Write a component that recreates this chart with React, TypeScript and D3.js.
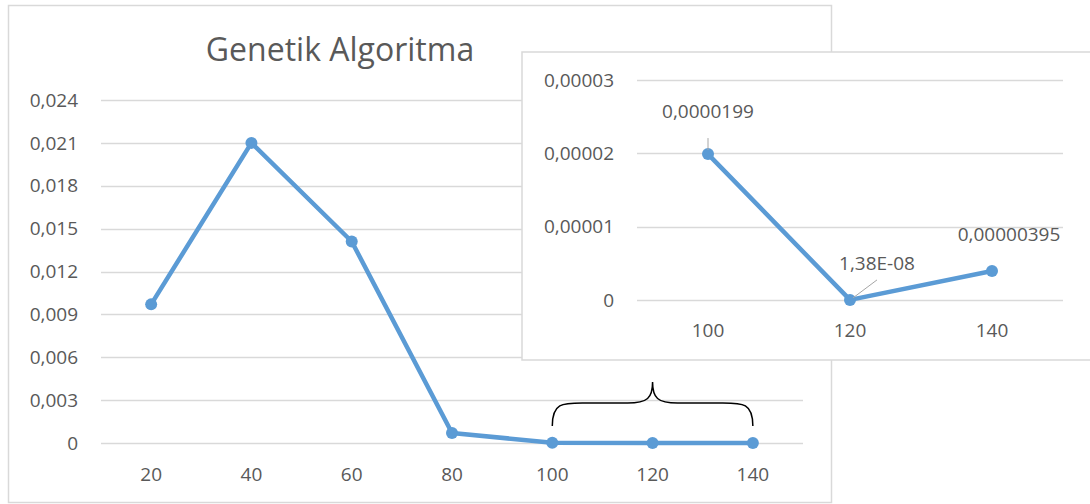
import React from 'react';
import * as d3 from 'd3';

// main chart
const categories = ['20', '40', '60', '80', '100', '120', '140'];
const values = [0.0097, 0.021, 0.0141, 0.0007, 0.0000199, 0.0000000138, 0.00000395];
const yTicks = [0, 0.003, 0.006, 0.009, 0.012, 0.015, 0.018, 0.021, 0.024];

// zoomed inset
const insetCategories = ['100', '120', '140'];
const insetValues = [0.0000199, 0.0000000138, 0.00000395];
const insetTicks = [0, 0.00001, 0.00002, 0.00003];
const insetTickLabels = ['0', '0,00001', '0,00002', '0,00003'];
const insetDataLabels = ['0,0000199', '1,38E-08', '0,00000395'];

const fmt = (v: number) => (v === 0 ? '0' : v.toFixed(3).replace('.', ','));

const BLUE = '#5b9bd5';
const GRID = '#d9d9d9';
const TEXT = '#595959';
const FONT = '"Open Sans", sans-serif';

export default function App() {
  const x = d3.scaleBand().domain(categories).range([101, 803]);
  const y = d3.scaleLinear().domain([0, 0.024]).range([443, 100]);
  const cx = (c: string) => (x(c) as number) + x.bandwidth() / 2;

  const line = d3.line<number>()
    .x((d, i) => cx(categories[i]))
    .y(d => y(d));

  const xi = d3.scaleBand().domain(insetCategories).range([637, 1063]);
  const yi = d3.scaleLinear().domain([0, 0.00003]).range([300, 80]);
  const cxi = (c: string) => (xi(c) as number) + xi.bandwidth() / 2;

  const insetLine = d3.line<number>()
    .x((d, i) => cxi(insetCategories[i]))
    .y(d => yi(d));

  // curly brace above the 100..140 points
  const bx0 = cx('100');
  const bx1 = cx('140');
  const bm = (bx0 + bx1) / 2;
  const yEnd = 426, yMid = 403, yPeak = 382;
  const brace = `M${bx0},${yEnd} C${bx0},${yMid} ${bx0 + 10},${yMid} ${bx0 + 30},${yMid}
    L${bm - 25},${yMid} C${bm - 5},${yMid} ${bm},${yMid - 5} ${bm},${yPeak}
    C${bm},${yMid - 5} ${bm + 5},${yMid} ${bm + 25},${yMid}
    L${bx1 - 30},${yMid} C${bx1 - 10},${yMid} ${bx1},${yMid} ${bx1},${yEnd}`;

  // data label positions relative to points
  const p0 = { x: cxi('100'), y: yi(insetValues[0]) };
  const p1 = { x: cxi('120'), y: yi(insetValues[1]) };
  const p2 = { x: cxi('140'), y: yi(insetValues[2]) };

  return (
    <svg width={1090} height={504} style={{ position: 'absolute', left: 0, top: 0, fontFamily: FONT }}>
      <rect x={0} y={0} width={1090} height={504} fill="#fff" />
      <rect x={8.5} y={5.5} width={823} height={497} fill="#fff" stroke={GRID} strokeWidth={1.5} />

      <text x={340} y={61} textAnchor="middle" fontSize={32} fill={TEXT}>Genetik Algoritma</text>

      {yTicks.map(t => (
        <g key={t}>
          <line x1={101} x2={803} y1={Math.round(y(t)) + 0.5} y2={Math.round(y(t)) + 0.5} stroke={GRID} strokeWidth={1.5} />
          <text x={78} y={y(t)} dy="0.35em" textAnchor="end" fontSize={19} fill={TEXT}>{fmt(t)}</text>
        </g>
      ))}
      {categories.map(c => (
        <text key={c} x={cx(c)} y={474} dy="0.35em" textAnchor="middle" fontSize={19} fill={TEXT}>{c}</text>
      ))}

      <path d={line(values) as string} fill="none" stroke={BLUE} strokeWidth={4.5} strokeLinejoin="round" />
      {values.map((v, i) => (
        <circle key={i} cx={cx(categories[i])} cy={y(v)} r={6} fill={BLUE} />
      ))}

      <path d={brace} fill="none" stroke="#000" strokeWidth={1.5} />

      {/* inset */}
      <rect x={522} y={52} width={580} height={308} fill="#fff" stroke={GRID} strokeWidth={1.5} />
      {insetTicks.map((t, i) => (
        <g key={t}>
          <line x1={637} x2={1063} y1={Math.round(yi(t)) + 0.5} y2={Math.round(yi(t)) + 0.5} stroke={GRID} strokeWidth={1.5} />
          <text x={614} y={yi(t)} dy="0.35em" textAnchor="end" fontSize={19} fill={TEXT}>{insetTickLabels[i]}</text>
        </g>
      ))}
      {insetCategories.map(c => (
        <text key={c} x={cxi(c)} y={330} dy="0.35em" textAnchor="middle" fontSize={19} fill={TEXT}>{c}</text>
      ))}

      <path d={insetLine(insetValues) as string} fill="none" stroke={BLUE} strokeWidth={4.5} strokeLinejoin="round" />
      {insetValues.map((v, i) => (
        <circle key={i} cx={cxi(insetCategories[i])} cy={yi(v)} r={6} fill={BLUE} />
      ))}

      <line x1={p0.x} x2={p0.x} y1={p0.y - 16} y2={p0.y - 4} stroke="#a6a6a6" strokeWidth={1} />
      <text x={p0.x} y={p0.y - 43} dy="0.35em" textAnchor="middle" fontSize={19} fill={TEXT}>{insetDataLabels[0]}</text>

      <line x1={p1.x + 27} x2={p1.x + 3} y1={p1.y - 20} y2={p1.y - 2} stroke="#a6a6a6" strokeWidth={1} />
      <text x={p1.x + 27} y={p1.y - 37} dy="0.35em" textAnchor="middle" fontSize={19} fill={TEXT}>{insetDataLabels[1]}</text>

      <text x={p2.x + 17} y={p2.y - 37} dy="0.35em" textAnchor="middle" fontSize={19} fill={TEXT}>{insetDataLabels[2]}</text>
    </svg>
  );
}
